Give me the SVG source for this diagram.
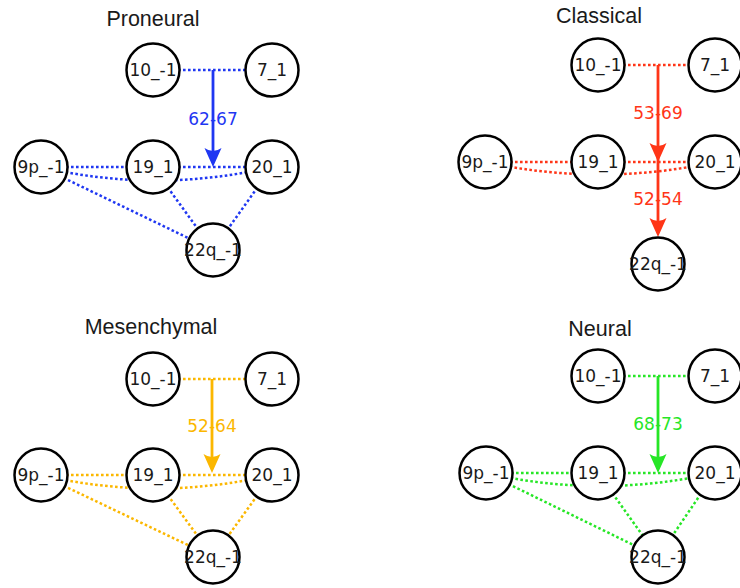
<svg xmlns="http://www.w3.org/2000/svg" width="740" height="588" viewBox="0 0 740 588">
<style>
.title{font-family:"Liberation Sans",Arial,sans-serif;font-size:21.5px;fill:#1a1a1a;text-anchor:middle}
.node circle{fill:#fff;stroke:#000;stroke-width:2.5}
.node text{font-family:"DejaVu Sans",sans-serif;font-size:17px;fill:#1a1a1a;text-anchor:middle}
.e{fill:none;stroke-width:2.5;stroke-dasharray:2.6 2.4}
.a{fill:none;stroke-width:2.8}
.lbl{font-family:"DejaVu Sans",sans-serif;font-size:17px;text-anchor:middle}
.blue{stroke:#1f37f2}.blueF{fill:#1f37f2}
.red{stroke:#ff3517}.redF{fill:#ff3517}
.org{stroke:#fbb700}.orgF{fill:#fbb700}
.grn{stroke:#26e626}.grnF{fill:#26e626}
</style>
<defs>
<path id="ah" d="M0,0 L-8.5,-19 Q0,-13 8.5,-19 Z"/>
</defs>

<text class="title" x="153" y="26">Proneural</text>
<text class="title" x="599" y="23">Classical</text>
<text class="title" x="151" y="334">Mesenchymal</text>
<text class="title" x="600" y="336">Neural</text>

<g id="connectors">
  <!-- Proneural -->
  <g class="blue">
    <line class="e" x1="153" y1="70" x2="272" y2="70"/>
    <line class="e" x1="41" y1="167" x2="153" y2="167"/>
    <line class="e" x1="153" y1="167" x2="272" y2="167"/>
    <path class="e" d="M41,167 Q156,194 272,167"/>
    <line class="e" x1="41" y1="167" x2="213" y2="250"/>
    <line class="e" x1="153" y1="167" x2="213" y2="250"/>
    <line class="e" x1="272" y1="167" x2="213" y2="250"/>
    <line class="a" x1="213" y1="70" x2="213" y2="156"/>
  </g>
  <use href="#ah" class="blueF" x="213" y="167"/>
  <!-- Classical -->
  <g class="red">
    <line class="e" x1="598" y1="65" x2="715" y2="65"/>
    <line class="e" x1="485" y1="162" x2="598" y2="162"/>
    <line class="e" x1="598" y1="162" x2="715" y2="162"/>
    <path class="e" d="M485,162 Q600,187 715,162"/>
    <line class="a" x1="658" y1="65" x2="658" y2="230"/>
  </g>
  <use href="#ah" class="redF" x="658" y="162"/>
  <use href="#ah" class="redF" x="658" y="237"/>
  <!-- Mesenchymal -->
  <g class="org">
    <line class="e" x1="153" y1="379" x2="272" y2="379"/>
    <line class="e" x1="41" y1="475" x2="153" y2="475"/>
    <line class="e" x1="153" y1="475" x2="272" y2="475"/>
    <path class="e" d="M41,475 Q156,502 272,475"/>
    <line class="e" x1="41" y1="475" x2="213" y2="557"/>
    <line class="e" x1="153" y1="475" x2="213" y2="557"/>
    <line class="e" x1="272" y1="475" x2="213" y2="557"/>
    <line class="a" x1="212" y1="379" x2="212" y2="463"/>
  </g>
  <use href="#ah" class="orgF" x="212" y="473"/>
  <!-- Neural -->
  <g class="grn">
    <line class="e" x1="598" y1="376" x2="715" y2="376"/>
    <line class="e" x1="486" y1="473" x2="598" y2="473"/>
    <line class="e" x1="598" y1="473" x2="715" y2="473"/>
    <path class="e" d="M486,473 Q600,499 715,473"/>
    <line class="e" x1="486" y1="473" x2="658" y2="557"/>
    <line class="e" x1="598" y1="473" x2="658" y2="557"/>
    <line class="e" x1="715" y1="473" x2="658" y2="557"/>
    <line class="a" x1="658" y1="376" x2="658" y2="463"/>
  </g>
  <use href="#ah" class="grnF" x="658" y="473"/>

  <text class="lbl blueF" x="213" y="125">62-67</text>
  <text class="lbl redF" x="658" y="119">53-69</text>
  <text class="lbl redF" x="658" y="205">52-54</text>
  <text class="lbl orgF" x="212" y="432">52-64</text>
  <text class="lbl grnF" x="658" y="430">68-73</text>
</g>

<!-- Proneural nodes -->
<g id="pn_10" class="node"><circle cx="153" cy="70" r="26.5"/><text x="153" y="76">10_-1</text></g>
<g id="pn_7" class="node"><circle cx="272" cy="70" r="26.5"/><text x="272" y="76">7_1</text></g>
<g id="pn_9p" class="node"><circle cx="41" cy="167" r="26.5"/><text x="41" y="173">9p_-1</text></g>
<g id="pn_19" class="node"><circle cx="153" cy="167" r="26.5"/><text x="153" y="173">19_1</text></g>
<g id="pn_20" class="node"><circle cx="272" cy="167" r="26.5"/><text x="272" y="173">20_1</text></g>
<g id="pn_22q" class="node"><circle cx="213" cy="250" r="26.5"/><text x="213" y="256">22q_-1</text></g>

<!-- Classical nodes -->
<g id="cl_10" class="node"><circle cx="598" cy="65" r="26.5"/><text x="598" y="71">10_-1</text></g>
<g id="cl_7" class="node"><circle cx="715" cy="65" r="26.5"/><text x="715" y="71">7_1</text></g>
<g id="cl_9p" class="node"><circle cx="485" cy="162" r="26.5"/><text x="485" y="168">9p_-1</text></g>
<g id="cl_19" class="node"><circle cx="598" cy="162" r="26.5"/><text x="598" y="168">19_1</text></g>
<g id="cl_20" class="node"><circle cx="715" cy="162" r="26.5"/><text x="715" y="168">20_1</text></g>
<g id="cl_22q" class="node"><circle cx="658" cy="264" r="26.5"/><text x="658" y="270">22q_-1</text></g>

<!-- Mesenchymal nodes -->
<g id="me_10" class="node"><circle cx="153" cy="379" r="26.5"/><text x="153" y="385">10_-1</text></g>
<g id="me_7" class="node"><circle cx="272" cy="379" r="26.5"/><text x="272" y="385">7_1</text></g>
<g id="me_9p" class="node"><circle cx="41" cy="475" r="26.5"/><text x="41" y="481">9p_-1</text></g>
<g id="me_19" class="node"><circle cx="153" cy="475" r="26.5"/><text x="153" y="481">19_1</text></g>
<g id="me_20" class="node"><circle cx="272" cy="475" r="26.5"/><text x="272" y="481">20_1</text></g>
<g id="me_22q" class="node"><circle cx="213" cy="557" r="26.5"/><text x="213" y="563">22q_-1</text></g>

<!-- Neural nodes -->
<g id="ne_10" class="node"><circle cx="598" cy="376" r="26.5"/><text x="598" y="382">10_-1</text></g>
<g id="ne_7" class="node"><circle cx="715" cy="376" r="26.5"/><text x="715" y="382">7_1</text></g>
<g id="ne_9p" class="node"><circle cx="486" cy="473" r="26.5"/><text x="486" y="479">9p_-1</text></g>
<g id="ne_19" class="node"><circle cx="598" cy="473" r="26.5"/><text x="598" y="479">19_1</text></g>
<g id="ne_20" class="node"><circle cx="715" cy="473" r="26.5"/><text x="715" y="479">20_1</text></g>
<g id="ne_22q" class="node"><circle cx="658" cy="557" r="26.5"/><text x="658" y="563">22q_-1</text></g>
</svg>
